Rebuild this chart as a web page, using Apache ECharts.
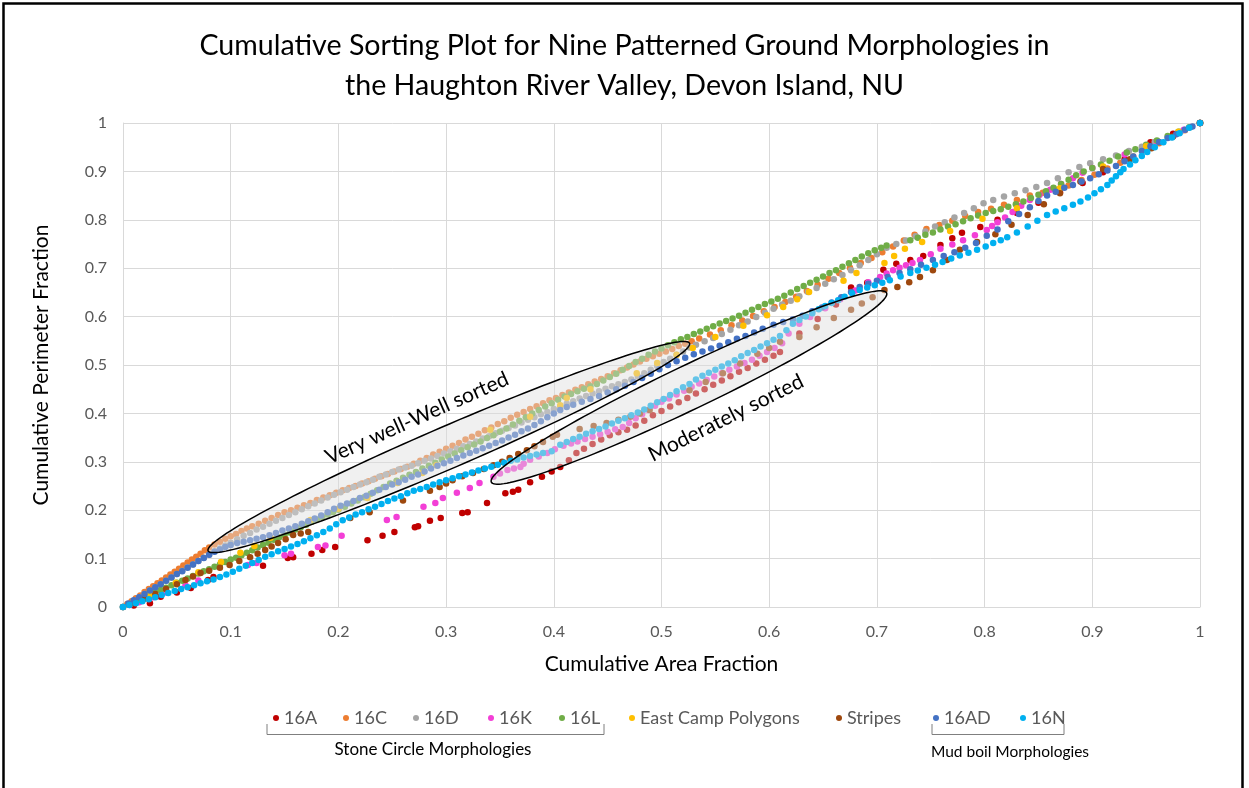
<!DOCTYPE html>
<html><head><meta charset="utf-8">
<script src="https://cdn.jsdelivr.net/npm/echarts/dist/echarts.min.js"></script>
<style>html,body{margin:0;padding:0;background:#fff}#c{width:1249px;height:788px}</style>
</head><body><div id="c"></div><script>
const FONT = 'Lato';
const seriesNames = ['16A','16C','16D','16K','16L','East Camp Polygons','Stripes','16AD','16N'];
const seriesColors = ['#C00000','#ED7D31','#A5A5A5','#F33FD6','#70AD47','#FFC000','#9E480E','#4472C4','#00B0F0'];
const xTickLabels = ['0','0.1','0.2','0.3','0.4','0.5','0.6','0.7','0.8','0.9','1'];

const d16A = [[0.01,0.003],[0.025,0.008],[0.035,0.021],[0.05,0.03],[0.063,0.039],[0.079,0.056],[0.084,0.062],[0.13,0.085],[0.153,0.101],[0.158,0.103],[0.175,0.11],[0.185,0.118],[0.197,0.124],[0.227,0.138],[0.241,0.147],[0.252,0.155],[0.271,0.165],[0.274,0.167],[0.285,0.178],[0.295,0.184],[0.315,0.194],[0.32,0.196],[0.338,0.215],[0.355,0.235],[0.362,0.238],[0.367,0.242],[0.378,0.258],[0.389,0.269],[0.398,0.28],[0.406,0.289],[0.414,0.303],[0.421,0.318],[0.428,0.327],[0.436,0.337],[0.444,0.346],[0.452,0.355],[0.46,0.361],[0.468,0.366],[0.476,0.375],[0.484,0.385],[0.492,0.396],[0.5,0.405],[0.508,0.414],[0.516,0.423],[0.524,0.432],[0.532,0.441],[0.54,0.45],[0.548,0.459],[0.556,0.468],[0.564,0.477],[0.572,0.486],[0.58,0.494],[0.588,0.503],[0.596,0.511],[0.604,0.519],[0.61,0.527],[0.628,0.565],[0.645,0.595],[0.662,0.625],[0.676,0.66],[0.691,0.67],[0.706,0.697],[0.718,0.709],[0.731,0.717],[0.743,0.725],[0.759,0.748],[0.77,0.762],[0.779,0.773],[0.796,0.785],[0.812,0.8],[0.83,0.814],[0.85,0.835],[0.87,0.857],[0.891,0.876],[0.91,0.898],[0.93,0.925],[0.954,0.96],[0.975,0.978],[1,1]];
const d16C = [[0,0],[0.004,0.006],[0.008,0.012],[0.012,0.018],[0.016,0.024],[0.02,0.031],[0.024,0.037],[0.028,0.043],[0.032,0.049],[0.036,0.055],[0.04,0.061],[0.044,0.067],[0.048,0.073],[0.052,0.079],[0.056,0.086],[0.06,0.092],[0.064,0.098],[0.068,0.104],[0.072,0.11],[0.076,0.117],[0.08,0.123],[0.085,0.129],[0.09,0.135],[0.095,0.141],[0.1,0.146],[0.105,0.151],[0.11,0.157],[0.115,0.162],[0.12,0.167],[0.126,0.172],[0.132,0.178],[0.138,0.184],[0.144,0.19],[0.15,0.196],[0.156,0.2],[0.162,0.205],[0.168,0.21],[0.174,0.215],[0.18,0.221],[0.186,0.226],[0.192,0.231],[0.198,0.236],[0.204,0.241],[0.21,0.246],[0.216,0.25],[0.222,0.255],[0.228,0.26],[0.234,0.265],[0.24,0.27],[0.246,0.275],[0.252,0.28],[0.258,0.285],[0.264,0.29],[0.27,0.296],[0.276,0.302],[0.282,0.308],[0.288,0.315],[0.294,0.321],[0.3,0.327],[0.306,0.333],[0.312,0.339],[0.318,0.346],[0.324,0.352],[0.33,0.358],[0.336,0.365],[0.342,0.371],[0.348,0.378],[0.354,0.384],[0.36,0.391],[0.366,0.397],[0.372,0.403],[0.378,0.409],[0.384,0.415],[0.39,0.421],[0.396,0.427],[0.402,0.432],[0.408,0.438],[0.414,0.443],[0.42,0.449],[0.426,0.454],[0.432,0.46],[0.438,0.466],[0.444,0.471],[0.45,0.477],[0.456,0.483],[0.462,0.489],[0.468,0.495],[0.474,0.501],[0.48,0.507],[0.486,0.513],[0.492,0.518],[0.498,0.523],[0.504,0.528],[0.51,0.533],[0.516,0.539],[0.522,0.544],[0.528,0.549],[0.535,0.555],[0.545,0.563],[0.555,0.572],[0.565,0.582],[0.575,0.592],[0.585,0.601],[0.595,0.611],[0.605,0.62],[0.615,0.63],[0.625,0.641],[0.635,0.653],[0.645,0.666],[0.655,0.678],[0.665,0.69],[0.675,0.701],[0.685,0.711],[0.695,0.721],[0.705,0.733],[0.715,0.745],[0.725,0.757],[0.735,0.769],[0.746,0.781],[0.758,0.789],[0.77,0.798],[0.782,0.808],[0.794,0.816],[0.806,0.823],[0.818,0.831],[0.83,0.841],[0.842,0.85],[0.854,0.856],[0.866,0.862],[0.878,0.871],[0.89,0.882],[0.902,0.893],[0.914,0.906],[0.926,0.918],[0.938,0.931],[0.95,0.945],[0.962,0.958],[0.974,0.971],[0.986,0.985],[1,1]];
const d16D = [[0,0],[0.005,0.006],[0.01,0.013],[0.015,0.02],[0.02,0.027],[0.025,0.034],[0.03,0.041],[0.035,0.047],[0.04,0.054],[0.045,0.061],[0.05,0.068],[0.055,0.075],[0.06,0.082],[0.065,0.088],[0.07,0.095],[0.075,0.102],[0.08,0.108],[0.085,0.115],[0.09,0.121],[0.095,0.127],[0.1,0.133],[0.106,0.14],[0.112,0.147],[0.118,0.153],[0.124,0.16],[0.13,0.166],[0.136,0.172],[0.142,0.178],[0.148,0.184],[0.154,0.19],[0.16,0.196],[0.166,0.202],[0.172,0.208],[0.178,0.214],[0.184,0.22],[0.19,0.226],[0.196,0.232],[0.202,0.237],[0.208,0.242],[0.214,0.248],[0.22,0.253],[0.226,0.258],[0.232,0.263],[0.238,0.269],[0.244,0.274],[0.25,0.279],[0.256,0.284],[0.262,0.288],[0.268,0.292],[0.274,0.297],[0.28,0.302],[0.286,0.307],[0.292,0.312],[0.298,0.317],[0.304,0.322],[0.31,0.327],[0.316,0.332],[0.322,0.337],[0.328,0.342],[0.334,0.348],[0.34,0.353],[0.346,0.359],[0.352,0.364],[0.358,0.37],[0.364,0.375],[0.37,0.381],[0.376,0.387],[0.382,0.392],[0.388,0.398],[0.394,0.403],[0.4,0.409],[0.406,0.414],[0.412,0.42],[0.418,0.425],[0.424,0.431],[0.43,0.436],[0.436,0.441],[0.442,0.446],[0.448,0.451],[0.454,0.456],[0.46,0.46],[0.466,0.465],[0.472,0.47],[0.478,0.476],[0.484,0.483],[0.49,0.49],[0.496,0.498],[0.502,0.506],[0.508,0.513],[0.514,0.521],[0.52,0.528],[0.526,0.536],[0.532,0.542],[0.54,0.549],[0.548,0.556],[0.556,0.564],[0.564,0.573],[0.572,0.582],[0.58,0.59],[0.588,0.599],[0.596,0.608],[0.604,0.616],[0.612,0.625],[0.62,0.633],[0.628,0.642],[0.636,0.651],[0.644,0.659],[0.652,0.668],[0.66,0.677],[0.668,0.686],[0.676,0.696],[0.684,0.706],[0.692,0.717],[0.7,0.729],[0.709,0.742],[0.718,0.75],[0.727,0.757],[0.736,0.766],[0.745,0.776],[0.754,0.786],[0.763,0.795],[0.772,0.805],[0.781,0.814],[0.79,0.824],[0.799,0.834],[0.808,0.841],[0.818,0.848],[0.828,0.855],[0.838,0.861],[0.848,0.868],[0.858,0.876],[0.868,0.886],[0.878,0.898],[0.888,0.909],[0.898,0.917],[0.91,0.925],[0.922,0.933],[0.934,0.942],[0.946,0.951],[0.958,0.961],[0.97,0.971],[0.982,0.982],[0.991,0.991],[1,1]];
const d16K = [[0.006,0.004],[0.015,0.01],[0.028,0.02],[0.04,0.03],[0.058,0.045],[0.07,0.055],[0.116,0.087],[0.124,0.091],[0.15,0.107],[0.156,0.11],[0.181,0.124],[0.188,0.127],[0.203,0.147],[0.245,0.18],[0.254,0.186],[0.279,0.207],[0.29,0.215],[0.297,0.225],[0.31,0.236],[0.322,0.246],[0.331,0.256],[0.344,0.269],[0.35,0.276],[0.357,0.283],[0.363,0.286],[0.369,0.289],[0.372,0.296],[0.378,0.304],[0.386,0.311],[0.394,0.318],[0.401,0.326],[0.409,0.333],[0.416,0.338],[0.422,0.342],[0.429,0.347],[0.436,0.352],[0.443,0.357],[0.45,0.362],[0.457,0.367],[0.464,0.372],[0.47,0.38],[0.476,0.39],[0.482,0.398],[0.488,0.407],[0.494,0.416],[0.5,0.424],[0.507,0.431],[0.514,0.439],[0.521,0.447],[0.528,0.455],[0.535,0.462],[0.542,0.469],[0.549,0.476],[0.556,0.483],[0.563,0.49],[0.57,0.497],[0.577,0.504],[0.584,0.511],[0.591,0.519],[0.598,0.527],[0.605,0.535],[0.612,0.545],[0.618,0.565],[0.628,0.585],[0.638,0.599],[0.652,0.617],[0.666,0.636],[0.68,0.654],[0.692,0.671],[0.703,0.682],[0.709,0.689],[0.715,0.696],[0.721,0.701],[0.727,0.706],[0.733,0.711],[0.74,0.717],[0.75,0.729],[0.759,0.74],[0.77,0.749],[0.78,0.758],[0.791,0.768],[0.802,0.779],[0.807,0.787],[0.812,0.795],[0.819,0.805],[0.826,0.816],[0.834,0.829],[0.842,0.841],[0.851,0.851],[0.861,0.862],[0.871,0.874],[0.882,0.886],[0.891,0.897],[0.9,0.907],[0.93,0.935],[0.96,0.962],[0.985,0.986],[1,1]];
const d16L = [[0,0],[0.005,0.005],[0.01,0.01],[0.015,0.015],[0.02,0.02],[0.025,0.025],[0.03,0.03],[0.035,0.035],[0.04,0.04],[0.045,0.045],[0.05,0.05],[0.055,0.054],[0.06,0.059],[0.065,0.064],[0.07,0.069],[0.075,0.074],[0.08,0.078],[0.085,0.083],[0.09,0.088],[0.095,0.093],[0.1,0.098],[0.105,0.102],[0.11,0.107],[0.115,0.112],[0.12,0.117],[0.125,0.123],[0.13,0.128],[0.135,0.133],[0.14,0.139],[0.145,0.144],[0.15,0.149],[0.155,0.154],[0.16,0.16],[0.165,0.165],[0.17,0.17],[0.175,0.176],[0.18,0.181],[0.185,0.186],[0.19,0.191],[0.195,0.196],[0.2,0.201],[0.206,0.207],[0.212,0.214],[0.218,0.22],[0.224,0.227],[0.23,0.234],[0.236,0.241],[0.242,0.248],[0.248,0.255],[0.254,0.261],[0.26,0.267],[0.266,0.273],[0.272,0.279],[0.278,0.286],[0.284,0.292],[0.29,0.298],[0.296,0.305],[0.302,0.311],[0.308,0.317],[0.314,0.324],[0.32,0.33],[0.326,0.336],[0.332,0.342],[0.338,0.349],[0.344,0.355],[0.35,0.362],[0.356,0.369],[0.362,0.377],[0.368,0.385],[0.374,0.392],[0.38,0.4],[0.386,0.407],[0.392,0.414],[0.398,0.421],[0.404,0.428],[0.41,0.435],[0.416,0.44],[0.422,0.446],[0.428,0.451],[0.434,0.456],[0.44,0.461],[0.446,0.468],[0.452,0.475],[0.458,0.482],[0.464,0.49],[0.47,0.498],[0.476,0.506],[0.482,0.513],[0.488,0.521],[0.494,0.528],[0.5,0.534],[0.506,0.541],[0.512,0.547],[0.518,0.553],[0.524,0.558],[0.53,0.564],[0.536,0.569],[0.542,0.575],[0.548,0.58],[0.554,0.586],[0.56,0.591],[0.566,0.596],[0.572,0.602],[0.578,0.608],[0.584,0.614],[0.59,0.62],[0.596,0.626],[0.602,0.631],[0.608,0.637],[0.614,0.643],[0.62,0.65],[0.626,0.657],[0.632,0.663],[0.638,0.67],[0.644,0.676],[0.65,0.683],[0.656,0.69],[0.662,0.696],[0.668,0.703],[0.674,0.71],[0.68,0.717],[0.686,0.724],[0.692,0.731],[0.698,0.737],[0.704,0.742],[0.709,0.747],[0.731,0.758],[0.738,0.763],[0.745,0.769],[0.752,0.774],[0.759,0.78],[0.766,0.786],[0.773,0.791],[0.78,0.797],[0.787,0.803],[0.794,0.809],[0.801,0.814],[0.808,0.818],[0.815,0.822],[0.822,0.827],[0.829,0.832],[0.836,0.838],[0.843,0.845],[0.85,0.852],[0.857,0.859],[0.864,0.866],[0.871,0.874],[0.878,0.883],[0.885,0.892],[0.892,0.9],[0.9,0.907],[0.908,0.914],[0.916,0.922],[0.924,0.931],[0.932,0.939],[0.94,0.946],[0.95,0.955],[0.96,0.964],[0.97,0.973],[0.98,0.982],[0.99,0.991],[1,1]];
const dEastCamp = [[0.01,0.01],[0.025,0.026],[0.049,0.05],[0.07,0.072],[0.091,0.093],[0.109,0.112],[0.122,0.126],[0.137,0.143],[0.174,0.18],[0.2,0.203],[0.227,0.225],[0.255,0.256],[0.278,0.277],[0.291,0.293],[0.341,0.366],[0.378,0.393],[0.406,0.417],[0.412,0.432],[0.434,0.45],[0.477,0.483],[0.496,0.504],[0.514,0.521],[0.529,0.535],[0.55,0.558],[0.576,0.581],[0.598,0.603],[0.613,0.62],[0.626,0.636],[0.637,0.651],[0.669,0.674],[0.681,0.69],[0.707,0.711],[0.716,0.725],[0.726,0.74],[0.742,0.754],[0.768,0.777],[0.798,0.802],[0.83,0.824],[0.87,0.865],[0.91,0.91],[0.95,0.952],[0.98,0.982],[1,1]];
const dStripes = [[0.01,0.008],[0.02,0.017],[0.03,0.027],[0.04,0.037],[0.05,0.047],[0.058,0.056],[0.065,0.063],[0.072,0.07],[0.08,0.075],[0.09,0.081],[0.099,0.087],[0.108,0.095],[0.118,0.103],[0.125,0.11],[0.132,0.118],[0.138,0.125],[0.144,0.132],[0.151,0.14],[0.158,0.149],[0.165,0.152],[0.172,0.155],[0.211,0.184],[0.229,0.196],[0.26,0.22],[0.285,0.24],[0.294,0.248],[0.3,0.255],[0.306,0.262],[0.315,0.27],[0.325,0.277],[0.335,0.285],[0.344,0.293],[0.352,0.3],[0.359,0.308],[0.367,0.316],[0.375,0.324],[0.382,0.332],[0.39,0.341],[0.399,0.352],[0.403,0.356],[0.424,0.368],[0.437,0.374],[0.449,0.38],[0.46,0.387],[0.471,0.393],[0.48,0.4],[0.489,0.407],[0.526,0.448],[0.541,0.465],[0.557,0.483],[0.573,0.503],[0.589,0.523],[0.6,0.535],[0.61,0.548],[0.628,0.558],[0.644,0.578],[0.66,0.597],[0.676,0.614],[0.686,0.627],[0.696,0.64],[0.707,0.655],[0.719,0.661],[0.73,0.671],[0.74,0.682],[0.752,0.696],[0.765,0.717],[0.777,0.738],[0.793,0.754],[0.81,0.77],[0.825,0.79],[0.84,0.81],[0.855,0.832],[0.87,0.855],[0.889,0.879],[0.91,0.905],[0.935,0.925],[0.955,0.948],[0.975,0.972],[1,1]];
const d16AD = [[0,0],[0.005,0.007],[0.01,0.014],[0.015,0.02],[0.02,0.027],[0.025,0.034],[0.03,0.041],[0.035,0.047],[0.04,0.054],[0.045,0.061],[0.05,0.068],[0.055,0.074],[0.06,0.081],[0.065,0.088],[0.07,0.095],[0.075,0.101],[0.08,0.108],[0.085,0.114],[0.09,0.119],[0.095,0.124],[0.1,0.128],[0.106,0.132],[0.112,0.135],[0.118,0.138],[0.124,0.141],[0.13,0.144],[0.136,0.148],[0.142,0.153],[0.148,0.158],[0.154,0.162],[0.16,0.167],[0.166,0.172],[0.172,0.177],[0.178,0.183],[0.184,0.189],[0.19,0.196],[0.196,0.203],[0.202,0.209],[0.208,0.214],[0.214,0.219],[0.22,0.225],[0.226,0.23],[0.232,0.236],[0.238,0.242],[0.244,0.248],[0.25,0.253],[0.256,0.258],[0.262,0.263],[0.268,0.269],[0.274,0.274],[0.28,0.28],[0.286,0.286],[0.292,0.292],[0.298,0.297],[0.304,0.302],[0.31,0.308],[0.316,0.313],[0.322,0.318],[0.328,0.323],[0.334,0.328],[0.34,0.333],[0.346,0.339],[0.352,0.344],[0.358,0.35],[0.364,0.356],[0.37,0.363],[0.376,0.369],[0.382,0.376],[0.388,0.384],[0.394,0.392],[0.4,0.4],[0.406,0.407],[0.412,0.413],[0.418,0.418],[0.426,0.424],[0.434,0.43],[0.442,0.436],[0.45,0.443],[0.458,0.45],[0.466,0.457],[0.474,0.465],[0.482,0.473],[0.49,0.482],[0.498,0.491],[0.506,0.5],[0.514,0.508],[0.522,0.515],[0.53,0.522],[0.538,0.528],[0.546,0.534],[0.554,0.54],[0.562,0.547],[0.57,0.554],[0.578,0.56],[0.586,0.567],[0.594,0.575],[0.604,0.583],[0.613,0.589],[0.622,0.594],[0.631,0.602],[0.64,0.611],[0.649,0.619],[0.658,0.629],[0.667,0.64],[0.676,0.651],[0.684,0.661],[0.692,0.668],[0.7,0.674],[0.71,0.682],[0.721,0.69],[0.731,0.698],[0.741,0.707],[0.752,0.717],[0.762,0.725],[0.772,0.733],[0.782,0.742],[0.792,0.752],[0.802,0.767],[0.812,0.78],[0.822,0.797],[0.832,0.812],[0.842,0.826],[0.85,0.839],[0.858,0.85],[0.866,0.858],[0.874,0.866],[0.882,0.872],[0.89,0.879],[0.898,0.886],[0.906,0.894],[0.914,0.902],[0.922,0.911],[0.93,0.921],[0.938,0.931],[0.946,0.942],[0.954,0.952],[0.962,0.961],[0.97,0.969],[0.978,0.977],[0.986,0.986],[0.993,0.993],[1,1]];
const d16N = [[0,0],[0.006,0.004],[0.012,0.008],[0.018,0.012],[0.024,0.016],[0.03,0.02],[0.036,0.025],[0.042,0.029],[0.048,0.033],[0.054,0.037],[0.06,0.041],[0.066,0.045],[0.072,0.049],[0.078,0.053],[0.084,0.057],[0.09,0.062],[0.096,0.067],[0.102,0.073],[0.108,0.079],[0.114,0.085],[0.12,0.091],[0.126,0.097],[0.132,0.104],[0.138,0.109],[0.144,0.115],[0.15,0.12],[0.156,0.125],[0.162,0.13],[0.168,0.136],[0.174,0.142],[0.18,0.148],[0.186,0.155],[0.192,0.162],[0.198,0.171],[0.204,0.179],[0.21,0.185],[0.216,0.191],[0.222,0.196],[0.228,0.202],[0.234,0.207],[0.24,0.213],[0.246,0.219],[0.252,0.224],[0.258,0.229],[0.264,0.235],[0.27,0.24],[0.276,0.244],[0.282,0.248],[0.288,0.253],[0.294,0.258],[0.3,0.262],[0.306,0.266],[0.312,0.27],[0.318,0.274],[0.324,0.278],[0.33,0.282],[0.336,0.286],[0.342,0.29],[0.348,0.294],[0.354,0.298],[0.36,0.302],[0.366,0.305],[0.372,0.309],[0.378,0.312],[0.384,0.315],[0.39,0.318],[0.398,0.322],[0.406,0.335],[0.412,0.341],[0.418,0.347],[0.424,0.352],[0.43,0.358],[0.436,0.363],[0.442,0.368],[0.448,0.373],[0.454,0.379],[0.46,0.385],[0.466,0.39],[0.472,0.396],[0.478,0.402],[0.484,0.408],[0.49,0.416],[0.496,0.423],[0.502,0.43],[0.508,0.438],[0.514,0.446],[0.52,0.454],[0.526,0.461],[0.532,0.47],[0.538,0.478],[0.544,0.484],[0.55,0.49],[0.556,0.497],[0.562,0.503],[0.568,0.51],[0.574,0.518],[0.58,0.525],[0.586,0.531],[0.592,0.538],[0.598,0.545],[0.604,0.552],[0.61,0.56],[0.616,0.572],[0.622,0.585],[0.628,0.593],[0.634,0.6],[0.64,0.607],[0.646,0.615],[0.652,0.622],[0.658,0.628],[0.664,0.634],[0.67,0.641],[0.677,0.648],[0.684,0.655],[0.691,0.66],[0.698,0.665],[0.705,0.67],[0.712,0.675],[0.722,0.683],[0.731,0.69],[0.738,0.695],[0.746,0.701],[0.754,0.707],[0.761,0.713],[0.769,0.72],[0.777,0.726],[0.785,0.732],[0.793,0.738],[0.801,0.745],[0.808,0.752],[0.815,0.758],[0.821,0.764],[0.83,0.774],[0.84,0.786],[0.849,0.798],[0.858,0.81],[0.866,0.817],[0.874,0.824],[0.882,0.831],[0.889,0.838],[0.896,0.846],[0.902,0.855],[0.908,0.863],[0.914,0.872],[0.918,0.881],[0.922,0.89],[0.926,0.898],[0.929,0.905],[0.935,0.914],[0.94,0.923],[0.946,0.932],[0.951,0.94],[0.958,0.95],[0.966,0.96],[0.974,0.97],[0.981,0.979],[0.99,0.99],[1,1]];
const seriesData = [d16A,d16C,d16D,d16K,d16L,dEastCamp,dStripes,d16AD,d16N];

const legendLeft = [268,338,408,483,554,624,831,928,1015];

const chart = echarts.init(document.getElementById('c'), null, {renderer:'canvas'});
const option = {
  animation:false,
  backgroundColor:'#fff',
  textStyle:{fontFamily:FONT},
  title:{text:'Cumulative Sorting Plot for Nine Patterned Ground Morphologies in\nthe Haughton River Valley, Devon Island, NU', left:'center', top:21,
    textStyle:{fontFamily:FONT, fontSize:28.6, fontWeight:'normal', color:'#000', lineHeight:40}},
  grid:{left:123, right:49, top:123, bottom:181, containLabel:false},
  xAxis:{type:'value', min:0, max:1, interval:0.1,
    name:'Cumulative Area Fraction', nameLocation:'middle', nameGap:47,
    nameTextStyle:{fontFamily:FONT, fontSize:21, color:'#000'},
    axisLine:{lineStyle:{color:'#D9D9D9'}}, axisTick:{show:false},
    axisLabel:{fontFamily:FONT, fontSize:16, color:'#595959', margin:17, formatter:(v)=>xTickLabels[Math.round(v*10)]},
    splitLine:{lineStyle:{color:'#D9D9D9', width:1}}},
  yAxis:{type:'value', min:0, max:1, interval:0.1,
    name:'Cumulative Perimeter Fraction', nameLocation:'middle', nameGap:71,
    nameTextStyle:{fontFamily:FONT, fontSize:21, color:'#000'},
    axisLine:{show:true, lineStyle:{color:'#D9D9D9'}}, axisTick:{show:false},
    axisLabel:{fontFamily:FONT, fontSize:16, color:'#595959', margin:16, formatter:(v)=>xTickLabels[Math.round(v*10)]},
    splitLine:{lineStyle:{color:'#D9D9D9', width:1}}},
  legend: seriesNames.map((n,i)=>({data:[n], left:legendLeft[i], top:704, icon:'circle', itemWidth:6, itemHeight:6,
    textStyle:{fontFamily:FONT, fontSize:18, color:'#595959'}, selectedMode:false})),
  series: seriesNames.map((n,i)=>({name:n, type:'scatter', data:seriesData[i], symbolSize:6.5,
    itemStyle:{color:seriesColors[i], opacity:1}, z:2+i*0.01}))
};
chart.setOption(option);

function ellipsePts(p1, p2, halfW){
  const a = chart.convertToPixel({gridIndex:0}, p1);
  const b = chart.convertToPixel({gridIndex:0}, p2);
  const cx=(a[0]+b[0])/2, cy=(a[1]+b[1])/2;
  const dx=b[0]-a[0], dy=b[1]-a[1];
  const L=Math.hypot(dx,dy)/2, ux=dx/(2*L), uy=dy/(2*L), vx=-uy, vy=ux;
  const pts=[];
  for(let i=0;i<160;i++){const t=i/160*2*Math.PI, c=Math.cos(t)*L, s=Math.sin(t)*halfW;
    pts.push([cx+c*ux+s*vx, cy+c*uy+s*vy]);}
  return pts;
}
const ellFill='rgba(222,222,222,0.45)';
chart.setOption({graphic:[
  {type:'rect', shape:{x:3.5,y:3.5,width:1239,height:900}, style:{fill:null, stroke:'#000', lineWidth:2.5}, z:50, silent:true},
  {type:'polygon', shape:{points:ellipsePts([0.079,0.116],[0.526,0.545],21)}, style:{fill:ellFill, stroke:'#000', lineWidth:1.5}, z:20, silent:true},
  {type:'polygon', shape:{points:ellipsePts([0.342,0.258],[0.709,0.649],22)}, style:{fill:ellFill, stroke:'#000', lineWidth:1.5}, z:20, silent:true},
  {type:'text', x:417, y:418, rotation:24*Math.PI/180, style:{text:'Very well-Well sorted', font:'21px '+FONT, fill:'#000', textAlign:'center', textVerticalAlign:'middle', align:'center', verticalAlign:'middle'}, z:30},
  {type:'text', x:726, y:418, rotation:26.5*Math.PI/180, style:{text:'Moderately sorted', font:'21px '+FONT, fill:'#000', textAlign:'center', textVerticalAlign:'middle', align:'center', verticalAlign:'middle'}, z:30},
  {type:'polyline', shape:{points:[[267,724],[267,734.5],[604,734.5],[604,724]]}, style:{stroke:'#7F7F7F', lineWidth:1, fill:null}, z:30},
  {type:'polyline', shape:{points:[[932,724],[932,734.5],[1064,734.5],[1064,724]]}, style:{stroke:'#7F7F7F', lineWidth:1, fill:null}, z:30},
  {type:'text', x:433, y:750, style:{text:'Stone Circle Morphologies', font:'17px '+FONT, fill:'#000', textAlign:'center', textVerticalAlign:'middle', align:'center', verticalAlign:'middle'}, z:30},
  {type:'text', x:1010, y:752, style:{text:'Mud boil Morphologies', font:'15.5px '+FONT, fill:'#000', textAlign:'center', textVerticalAlign:'middle', align:'center', verticalAlign:'middle'}, z:30}
]});
</script></body></html>
